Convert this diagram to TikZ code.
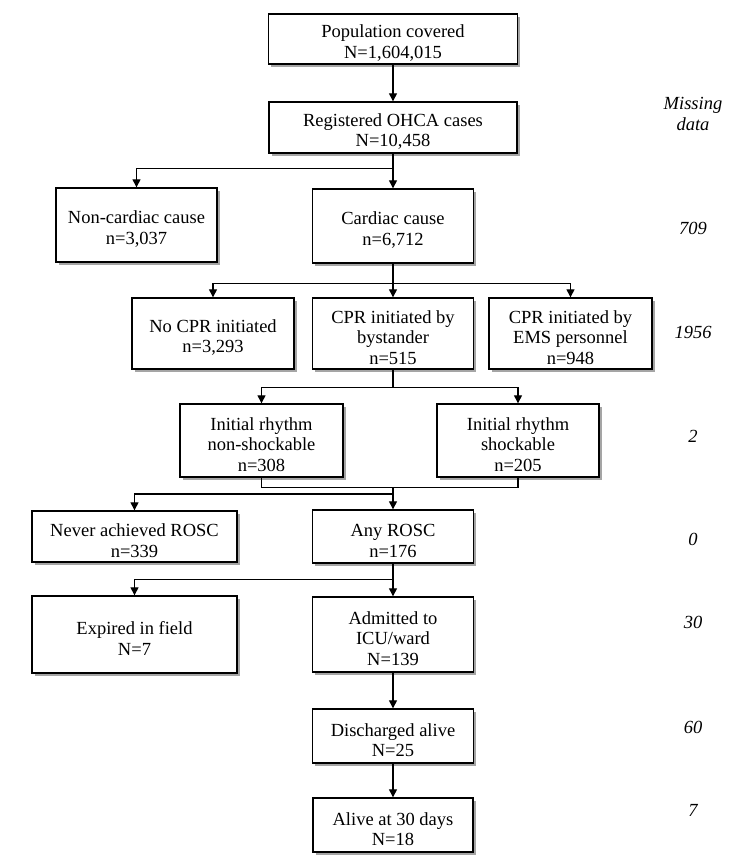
\documentclass[tikz,border=0pt]{standalone}
\usepackage{fontspec}
\setmainfont{Liberation Serif}
\usetikzlibrary{arrows.meta,shadows}
\newcommand{\tpad}{\rule{0pt}{21pt}}
\begin{document}
\begin{tikzpicture}[x=1pt,y=-1pt,
  box/.style={draw, line width=1.4pt, fill=white, align=center, inner sep=2pt,
    font=\fontsize{18.5}{20.8}\selectfont,
    drop shadow={shadow xshift=2.8pt, shadow yshift=-2.8pt, fill=black!70, opacity=0.5}},
  arr/.style={line width=1.3pt, -{Triangle[length=8pt,width=8pt]}},
  ln/.style={line width=1.3pt},
  miss/.style={font=\fontsize{18.5}{20.5}\selectfont\itshape, align=center}]
\useasboundingbox (0,0) rectangle (750,868);
\fill[white] (0,0) rectangle (750,868);

% boxes
\node[box, minimum width=249pt, minimum height=50pt] (pop) at (393,39) {\tpad Population covered\\N=1,604,015};
\node[box, minimum width=248pt, minimum height=51pt] (reg) at (393,127.5) {\tpad Registered OHCA cases\\N=10,458};
\node[box, minimum width=161pt, minimum height=74pt] (noncard) at (136.5,225) {\tpad Non-cardiac cause\\n=3,037};
\node[box, minimum width=161pt, minimum height=74pt] (card) at (393,226) {\tpad Cardiac cause\\n=6,712};
\node[box, minimum width=162pt, minimum height=71pt] (nocpr) at (213,333.5) {\tpad No CPR initiated\\n=3,293};
\node[box, minimum width=161pt, minimum height=71pt] (byst) at (393,333.5) {\tpad CPR initiated by\\bystander\\n=515};
\node[box, minimum width=163pt, minimum height=71pt] (ems) at (570.5,333.5) {\tpad CPR initiated by\\EMS personnel\\n=948};
\node[box, minimum width=163pt, minimum height=73pt] (lrh) at (261.5,440.5) {\tpad Initial rhythm\\non-shockable\\n=308};
\node[box, minimum width=162pt, minimum height=73pt] (rrh) at (518,440.5) {\tpad Initial rhythm\\shockable\\n=205};
\node[box, minimum width=205pt, minimum height=51pt] (never) at (134.5,536.5) {\tpad Never achieved ROSC\\n=339};
\node[box, minimum width=161pt, minimum height=53pt] (any) at (393,536.5) {\tpad Any ROSC\\n=176};
\node[box, minimum width=205pt, minimum height=77pt] (exp) at (134.5,634.5) {\tpad Expired in field\\N=7};
\node[box, minimum width=161pt, minimum height=75pt] (adm) at (393,634.5) {\tpad Admitted to\\ICU/ward\\N=139};
\node[box, minimum width=161pt, minimum height=54pt] (dis) at (393,736) {\tpad Discharged alive\\N=25};
\node[box, minimum width=160pt, minimum height=54pt] (alive) at (393,825) {\tpad Alive at 30 days\\N=18};

% missing data column
\node[miss] (mhead) at (693,114) {Missing\\data};
\node[miss] (m1) at (693,228) {709};
\node[miss] (m2) at (693,332) {1956};
\node[miss] (m3) at (693,436) {2};
\node[miss] (m4) at (693,539) {0};
\node[miss] (m5) at (693,622) {30};
\node[miss] (m6) at (693,727) {60};
\node[miss] (m7) at (693,810) {7};

% connectors
\draw[arr] (pop) -- (reg);
\draw[arr] (reg) -- (card);
\draw[arr] (reg.south) -- ++(0,15) -| (noncard.north);
\draw[arr] (card) -- (byst);
\draw[arr] (card.south) -- ++(0,20) -| (nocpr.north);
\draw[arr] (card.south) -- ++(0,20) -| (ems.north);
\draw[arr] (byst.south) -- ++(0,18) -| (lrh.north);
\draw[arr] (byst.south) -- ++(0,18) -| (rrh.north);
\draw[ln] (lrh.south) -- ++(0,10) -| (rrh.south);
\coordinate (merge) at (any.north |- 0,487);
\draw[arr] (merge) -- (any.north);
\draw[arr] (merge) -- ++(0,7) -| (never.north);
\draw[arr] (any) -- (adm);
\draw[arr] (any.south) -- ++(0,16) -| (exp.north);
\draw[arr] (adm) -- (dis);
\draw[arr] (dis) -- (alive);
\end{tikzpicture}
\end{document}
